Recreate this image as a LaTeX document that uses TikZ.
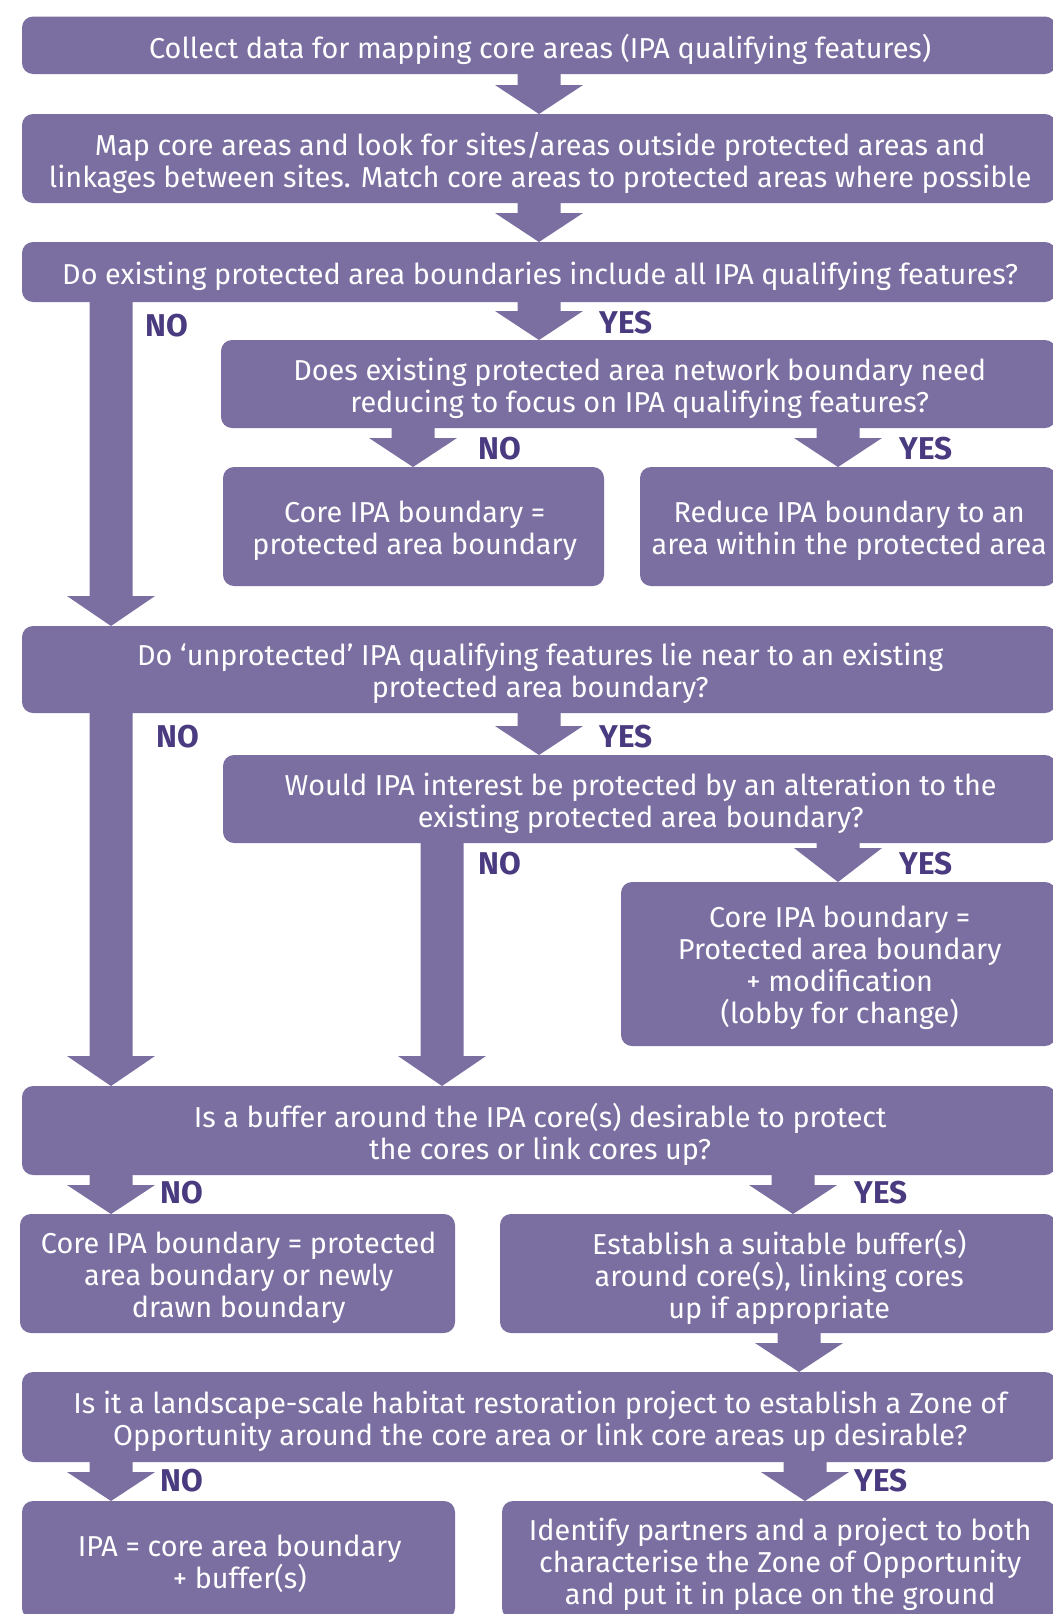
\documentclass[tikz,border=0pt]{standalone}
\usepackage{fontspec}
\setmainfont{Fira Sans}
\usetikzlibrary{calc}
\definecolor{boxfill}{RGB}{123,111,161}
\definecolor{labcol}{RGB}{74,58,128}
\tikzset{
  box/.style={fill=boxfill, rounded corners=11pt},
  boxtext/.style={text=white, align=center, inner sep=0pt,
    font=\fontsize{28.8}{32}\selectfont},
  lab/.style={text=labcol, font=\fontsize{31.5}{34}\selectfont\bfseries, inner sep=0pt},
  arrowfill/.style={fill=boxfill}
}
% #1 head length, #2 x centre, #3 source node, #4 target node
\newcommand\fatarrow[4][29]{%
  \fill[arrowfill]
    ($(#3.south -| #2,0)+(-21.5,-1)$) -- ($(#3.south -| #2,0)+(21.5,-1)$) --
    ($(#4.north -| #2,0)+(21.5,-#1)$) -- ($(#4.north -| #2,0)+(44,-#1)$) --
    (#4.north -| #2,0) --
    ($(#4.north -| #2,0)+(-44,-#1)$) -- ($(#4.north -| #2,0)+(-21.5,-#1)$) -- cycle;}
% #1 name, #2 x0, #3 y0, #4 x1, #5 y1, #6 text
\newcommand\mybox[6]{%
  \path[box] (#2,#3) rectangle (#4,#5);
  \node[inner sep=0pt, minimum width={#4-#2}, minimum height={#5-#3}, anchor=north west] (#1) at (#2,#3) {};
  \node[boxtext] at ($(#1.center)+(1,4)$) {#6};}
\begin{document}
\begin{tikzpicture}[x=1pt,y=-1pt]
\useasboundingbox (0,0) rectangle (1052,1614);
\fill[white] (0,0) rectangle (1052,1614);

\mybox{b1}{22}{16.5}{1056}{74}{Collect data for mapping core areas (IPA qualifying features)}
\mybox{b2}{22}{114}{1056}{203}{Map core areas and look for sites/areas outside protected areas and\\linkages between sites. Match core areas to protected areas where possible}
\mybox{b3}{22}{242}{1056}{302}{Do existing protected area boundaries include all IPA qualifying features?}
\mybox{b4}{221}{340}{1056}{428}{Does existing protected area network boundary need\\reducing to focus on IPA qualifying features?}
\mybox{b4n}{223}{467}{604}{586}{Core IPA boundary =\\protected area boundary}
\mybox{b4y}{640}{467}{1056}{586}{Reduce IPA boundary to an\\area within the protected area}
\mybox{b5}{22}{626}{1056}{713}{Do ‘unprotected’ IPA qualifying features lie near to an existing\\protected area boundary?}
\mybox{b6}{223}{755}{1056}{843}{Would IPA interest be protected by an alteration to the\\existing protected area boundary?}
\mybox{b6y}{621}{882}{1056}{1046}{Core IPA boundary =\\Protected area boundary\\+ modification\\(lobby for change)}
\mybox{b7}{22}{1086}{1056}{1175}{Is a buffer around the IPA core(s) desirable to protect\\the cores or link cores up?}
\mybox{b8n}{20}{1214}{455}{1333}{Core IPA boundary = protected\\area boundary or newly\\drawn boundary}
\mybox{b8y}{500}{1214}{1056}{1333}{Establish a suitable buffer(s)\\around core(s), linking cores\\up if appropriate}
\mybox{b9}{22}{1372}{1056}{1462}{Is it a landscape-scale habitat restoration project to establish a Zone of\\Opportunity around the core area or link core areas up desirable?}
\mybox{b10n}{22}{1501}{455}{1619}{IPA = core area boundary\\+ buffer(s)}
\mybox{b10y}{502}{1501}{1056}{1619}{Identify partners and a project to both\\characterise the Zone of Opportunity\\and put it in place on the ground}

\fatarrow{539}{b1}{b2}
\fatarrow{539}{b2}{b3}
\fatarrow{539}{b3}{b4}
\fatarrow[30]{111}{b3}{b5}
\fatarrow{413}{b4}{b4n}
\fatarrow{838}{b4}{b4y}
\fatarrow{539}{b5}{b6}
\fatarrow[30]{111}{b5}{b7}
\fatarrow[30]{442}{b6}{b7}
\fatarrow[34]{838}{b6}{b6y}
\fatarrow{111}{b7}{b8n}
\fatarrow{793}{b7}{b8y}
\fatarrow{799}{b8y}{b9}
\fatarrow{111}{b9}{b10n}
\fatarrow{805}{b9}{b10y}

\node[lab] (n1) at (167,326) {NO};
\node[lab] (y1) at (626,323) {YES};
\node[lab] (n2) at (500,449) {NO};
\node[lab] (y2) at (926,449) {YES};
\node[lab] (n3) at (178,737) {NO};
\node[lab] (y3) at (626,737) {YES};
\node[lab] (n4) at (500,864) {NO};
\node[lab] (y4) at (926,864) {YES};
\node[lab] (n5) at (182,1193) {NO};
\node[lab] (y5) at (881,1193) {YES};
\node[lab] (n6) at (182,1481) {NO};
\node[lab] (y6) at (881,1481) {YES};
\end{tikzpicture}
\end{document}
